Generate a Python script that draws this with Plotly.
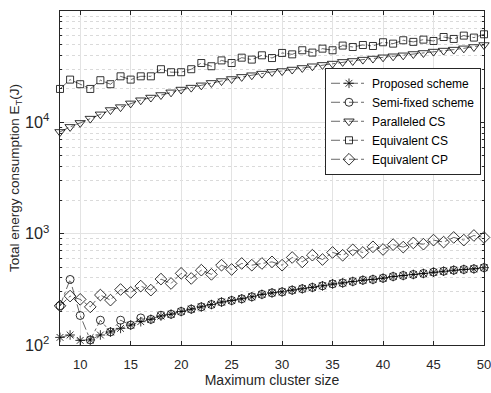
import plotly.graph_objects as go

# Maximum cluster size
cluster_size = list(range(8, 51))

proposed = [117, 123, 110, 111, 123, 131, 141, 151, 162, 170, 182, 189, 200,
            210, 220, 231, 243, 251, 260, 271, 285, 294, 300, 311, 320, 329,
            340, 354, 361, 372, 382, 388, 398, 412, 421, 430, 439, 451, 460,
            470, 477, 483, 495]

semi_fixed = [225, 388, 184, 111, 167, 131, 167, 151, 175, 170, 185, 189, 200,
              210, 220, 231, 243, 251, 260, 271, 285, 294, 300, 311, 320, 329,
              340, 354, 361, 372, 382, 388, 398, 412, 421, 430, 439, 451, 460,
              470, 477, 483, 495]

paralleled_cs = [8200, 9100, 9880, 10800, 11800, 12900, 13700, 14800, 15800,
                 16700, 17600, 18600, 19700, 20500, 21500, 22600, 23500, 24500,
                 25600, 26500, 27400, 28400, 28900, 29800, 30800, 31900, 32800,
                 33700, 34900, 35600, 36600, 37400, 38400, 39200, 40000, 41100,
                 42000, 43200, 44100, 45000, 46200, 47500, 49500]

equivalent_cs = [19950, 24200, 22000, 19950, 23900, 22000, 25900, 24200, 25900,
                 25900, 30000, 28200, 28200, 30000, 34100, 31900, 36000, 34100,
                 38100, 36600, 40000, 37800, 42000, 40800, 44400, 42300, 45900,
                 44400, 48900, 47500, 49500, 48500, 52400, 50900, 54600, 52800,
                 55300, 53800, 58400, 56100, 60100, 57700, 61800]

equivalent_cp = [225, 275, 257, 220, 281, 253, 315, 297, 338, 311, 391, 357, 440,
                 396, 470, 431, 521, 477, 540, 521, 540, 558, 521, 611, 558, 641,
                 586, 678, 640, 716, 678, 762, 721, 797, 757, 826, 805, 875, 840,
                 925, 875, 963, 925]

series = [
    ("Proposed scheme", proposed, "asterisk-open", 8),
    ("Semi-fixed scheme", semi_fixed, "circle-open", 8),
    ("Paralleled CS", paralleled_cs, "triangle-down-open", 9),
    ("Equivalent CS", equivalent_cs, "square-open", 7),
    ("Equivalent CP", equivalent_cp, "diamond-open", 9),
]

x_ticks = [10, 15, 20, 25, 30, 35, 40, 45, 50]

FONT = "Liberation Sans, Arial, Helvetica, sans-serif"
AXIS_GRAY = "#262626"

fig = go.Figure()
for name, values, symbol, msize in series:
    fig.add_trace(go.Scatter(
        x=cluster_size, y=values, name=name, mode="lines+markers",
        line=dict(color="black", width=0.6, dash="dashdot"),
        marker=dict(symbol=symbol, size=msize, color="black",
                    line=dict(color="#111111", width=0.8)),
        cliponaxis=False,
    ))

fig.update_layout(
    width=491, height=393,
    margin=dict(l=60, r=7, t=11, b=48, autoexpand=False),
    paper_bgcolor="white", plot_bgcolor="white",
    font=dict(family=FONT, size=13, color=AXIS_GRAY),
    showlegend=True,
    legend=dict(
        x=0.625, y=0.83, xanchor="left", yanchor="top",
        bgcolor="white", bordercolor=AXIS_GRAY, borderwidth=1,
        font=dict(family=FONT, size=12, color="#000000"),
        tracegroupgap=0, itemwidth=36,
    ),
)

fig.update_xaxes(
    range=[8, 50], tickvals=x_ticks, automargin=False,
    ticklabeloverflow="allow",
    showline=True, linecolor=AXIS_GRAY, linewidth=1, mirror="ticks",
    ticks="inside", ticklen=4, tickcolor=AXIS_GRAY,
    showgrid=True, gridcolor="#e3e3e3", gridwidth=1,
    zeroline=False, ticklabelstandoff=7,
    title=dict(text="Maximum cluster size", font=dict(size=14), standoff=3),
    tickfont=dict(size=13),
)

fig.update_yaxes(
    type="log", range=[2, 5], dtick=1, exponentformat="power",
    automargin=False,
    showline=True, linecolor=AXIS_GRAY, linewidth=1, mirror="ticks",
    ticks="inside", ticklen=4, tickcolor=AXIS_GRAY,
    showgrid=True, gridcolor="#e3e3e3", gridwidth=1,
    minor=dict(ticks="inside", ticklen=2, tickcolor=AXIS_GRAY,
               showgrid=True, gridcolor="#dadada", griddash="dot",
               gridwidth=0.7),
    zeroline=False, ticklabelstandoff=7,
    title=dict(text="Total energy consumption E<sub>T</sub>(J)",
               font=dict(size=13.5), standoff=2),
    tickfont=dict(size=13),
)

fig.write_html("out.html")
